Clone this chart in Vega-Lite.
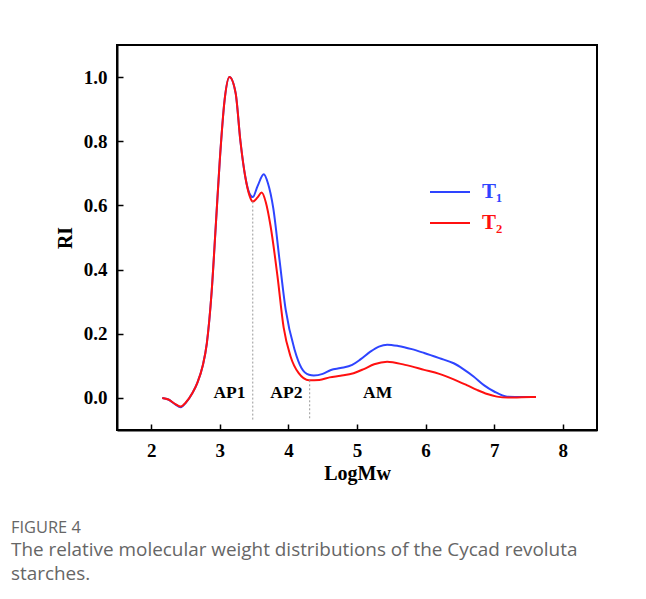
{
  "$schema": "https://vega.github.io/schema/vega-lite/v6.json",
  "width": 480,
  "height": 385,
  "autosize": {"type": "none"},
  "padding": {"left": 117, "top": 45, "right": 49, "bottom": 169},
  "background": "white",
  "config": {
    "view": {"stroke": "black", "strokeWidth": 2},
    "font": "Liberation Serif"
  },
  "title": {
    "text": "FIGURE 4",
    "subtitle": ["The relative molecular weight distributions of the Cycad revoluta", "starches."],
    "orient": "bottom",
    "anchor": "start",
    "frame": "group",
    "dx": -106,
    "offset": 37,
    "font": "Open Sans",
    "fontSize": 16.4,
    "fontWeight": "normal",
    "color": "#666666",
    "subtitleFont": "Open Sans",
    "subtitleFontSize": 18.9,
    "subtitleColor": "#666666",
    "subtitleLineHeight": 24,
    "subtitlePadding": 5
  },
  "layer": [
    {
      "data": {"values": [
        {"x": 2.16, "ri": 0.0, "s": "T1"}, {"x": 2.25, "ri": -0.005, "s": "T1"}, {"x": 2.35, "ri": -0.02, "s": "T1"}, {"x": 2.43, "ri": -0.029, "s": "T1"}, {"x": 2.5, "ri": -0.016, "s": "T1"}, {"x": 2.6, "ri": 0.015, "s": "T1"}, {"x": 2.67, "ri": 0.046, "s": "T1"}, {"x": 2.75, "ri": 0.1, "s": "T1"}, {"x": 2.81, "ri": 0.17, "s": "T1"}, {"x": 2.88, "ri": 0.33, "s": "T1"}, {"x": 2.94, "ri": 0.535, "s": "T1"}, {"x": 3.0, "ri": 0.744, "s": "T1"}, {"x": 3.07, "ri": 0.93, "s": "T1"}, {"x": 3.14, "ri": 1.0, "s": "T1"}, {"x": 3.23, "ri": 0.95, "s": "T1"}, {"x": 3.3, "ri": 0.8, "s": "T1"}, {"x": 3.37, "ri": 0.69, "s": "T1"}, {"x": 3.43, "ri": 0.638, "s": "T1"},
        {"x": 3.48, "ri": 0.626, "s": "T1"}, {"x": 3.55, "ri": 0.66, "s": "T1"}, {"x": 3.64, "ri": 0.697, "s": "T1"}, {"x": 3.7, "ri": 0.67, "s": "T1"}, {"x": 3.78, "ri": 0.59, "s": "T1"}, {"x": 3.87, "ri": 0.43, "s": "T1"}, {"x": 3.96, "ri": 0.275, "s": "T1"}, {"x": 4.09, "ri": 0.15, "s": "T1"}, {"x": 4.19, "ri": 0.093, "s": "T1"}, {"x": 4.3, "ri": 0.072, "s": "T1"}, {"x": 4.37, "ri": 0.07, "s": "T1"}, {"x": 4.5, "ri": 0.075, "s": "T1"}, {"x": 4.62, "ri": 0.087, "s": "T1"}, {"x": 4.76, "ri": 0.093, "s": "T1"}, {"x": 4.93, "ri": 0.103, "s": "T1"}, {"x": 5.05, "ri": 0.12, "s": "T1"}, {"x": 5.2, "ri": 0.145, "s": "T1"}, {"x": 5.32, "ri": 0.16, "s": "T1"}, {"x": 5.44, "ri": 0.166, "s": "T1"}, {"x": 5.6, "ri": 0.162, "s": "T1"}, {"x": 5.8, "ri": 0.152, "s": "T1"}, {"x": 5.98, "ri": 0.14, "s": "T1"}, {"x": 6.2, "ri": 0.124, "s": "T1"}, {"x": 6.41, "ri": 0.108, "s": "T1"}, {"x": 6.55, "ri": 0.09, "s": "T1"}, {"x": 6.7, "ri": 0.067, "s": "T1"}, {"x": 6.85, "ri": 0.04, "s": "T1"}, {"x": 7.0, "ri": 0.02, "s": "T1"}, {"x": 7.19, "ri": 0.004, "s": "T1"}, {"x": 7.4, "ri": 0.003, "s": "T1"}, {"x": 7.61, "ri": 0.003, "s": "T1"},
        {"x": 2.16, "ri": 0.0, "s": "T2"}, {"x": 2.25, "ri": -0.005, "s": "T2"}, {"x": 2.35, "ri": -0.019, "s": "T2"}, {"x": 2.43, "ri": -0.027, "s": "T2"}, {"x": 2.5, "ri": -0.015, "s": "T2"}, {"x": 2.6, "ri": 0.015, "s": "T2"}, {"x": 2.67, "ri": 0.046, "s": "T2"}, {"x": 2.75, "ri": 0.1, "s": "T2"}, {"x": 2.81, "ri": 0.17, "s": "T2"}, {"x": 2.88, "ri": 0.33, "s": "T2"}, {"x": 2.94, "ri": 0.535, "s": "T2"}, {"x": 3.0, "ri": 0.744, "s": "T2"}, {"x": 3.07, "ri": 0.93, "s": "T2"}, {"x": 3.14, "ri": 1.0, "s": "T2"}, {"x": 3.23, "ri": 0.95, "s": "T2"}, {"x": 3.3, "ri": 0.8, "s": "T2"}, {"x": 3.37, "ri": 0.69, "s": "T2"}, {"x": 3.43, "ri": 0.632, "s": "T2"},
        {"x": 3.48, "ri": 0.612, "s": "T2"}, {"x": 3.55, "ri": 0.625, "s": "T2"}, {"x": 3.61, "ri": 0.64, "s": "T2"}, {"x": 3.67, "ri": 0.61, "s": "T2"}, {"x": 3.74, "ri": 0.535, "s": "T2"}, {"x": 3.84, "ri": 0.38, "s": "T2"}, {"x": 3.93, "ri": 0.22, "s": "T2"}, {"x": 4.03, "ri": 0.13, "s": "T2"}, {"x": 4.15, "ri": 0.077, "s": "T2"}, {"x": 4.3, "ri": 0.055, "s": "T2"}, {"x": 4.45, "ri": 0.056, "s": "T2"}, {"x": 4.6, "ri": 0.064, "s": "T2"}, {"x": 4.76, "ri": 0.069, "s": "T2"}, {"x": 4.95, "ri": 0.077, "s": "T2"}, {"x": 5.1, "ri": 0.09, "s": "T2"}, {"x": 5.25, "ri": 0.105, "s": "T2"}, {"x": 5.44, "ri": 0.113, "s": "T2"}, {"x": 5.7, "ri": 0.103, "s": "T2"}, {"x": 5.98, "ri": 0.0875, "s": "T2"}, {"x": 6.2, "ri": 0.075, "s": "T2"}, {"x": 6.41, "ri": 0.058, "s": "T2"}, {"x": 6.6, "ri": 0.04, "s": "T2"}, {"x": 6.75, "ri": 0.025, "s": "T2"}, {"x": 6.9, "ri": 0.012, "s": "T2"}, {"x": 7.04, "ri": 0.004, "s": "T2"}, {"x": 7.2, "ri": 0.001, "s": "T2"}, {"x": 7.4, "ri": 0.002, "s": "T2"}, {"x": 7.61, "ri": 0.003, "s": "T2"}
      ]},
      "mark": {"type": "line", "interpolate": "monotone", "strokeWidth": 2},
      "encoding": {
        "x": {
          "field": "x", "type": "quantitative",
          "scale": {"domain": [1.5, 8.5], "nice": false, "zero": false},
          "axis": {
            "title": "LogMw",
            "titleFont": "Liberation Serif", "titleFontSize": 20, "titleFontWeight": "bold", "titleColor": "black", "titlePadding": 3,
            "values": [2, 2.5, 3, 3.5, 4, 4.5, 5, 5.5, 6, 6.5, 7, 7.5, 8],
            "labelExpr": "datum.value % 1 == 0 ? format(datum.value, 'd') : ''",
            "tickSize": -6,
            "tickColor": "black", "tickWidth": 1.5,
            "domainColor": "black", "domainWidth": 2,
            "labelFont": "Liberation Serif", "labelFontSize": 19, "labelFontWeight": "bold", "labelColor": "black",
            "labelPadding": 17, "grid": false
          }
        },
        "y": {
          "field": "ri", "type": "quantitative",
          "scale": {"domain": [-0.1, 1.1], "nice": false, "zero": false},
          "axis": {
            "title": "RI",
            "titleFont": "Liberation Serif", "titleFontSize": 20, "titleFontWeight": "bold", "titleColor": "black", "titlePadding": 8,
            "values": [0, 0.1, 0.2, 0.3, 0.4, 0.5, 0.6, 0.7, 0.8, 0.9, 1.0],
            "labelExpr": "round(datum.value * 10) % 2 == 0 ? format(datum.value, '.1f') : ''",
            "tickSize": -6,
            "tickColor": "black", "tickWidth": 1.5,
            "domainColor": "black", "domainWidth": 2,
            "labelFont": "Liberation Serif", "labelFontSize": 19, "labelFontWeight": "bold", "labelColor": "black",
            "labelPadding": 16, "grid": false
          }
        },
        "color": {
          "field": "s", "type": "nominal",
          "scale": {"domain": ["T1", "T2"], "range": ["#2e44ff", "#ff1010"]},
          "legend": {
            "title": null,
            "orient": "none",
            "legendX": 312,
            "legendY": 126,
            "symbolType": "stroke",
            "symbolSize": 1600,
            "symbolStrokeWidth": 2,
            "rowPadding": -2,
            "labelOffset": 11,
            "labelFont": "Liberation Serif",
            "labelFontSize": 21,
            "labelFontWeight": "bold",
            "labelExpr": "datum.value == 'T1' ? 'T₁' : 'T₂'",
            "encode": {"labels": {"update": {"fill": {"scale": "color", "field": "value"}}}}
          }
        }
      }
    },
    {
      "data": {"values": [
        {"x": 3.48, "top": 0.612, "bottom": -0.07},
        {"x": 4.31, "top": 0.055, "bottom": -0.07}
      ]},
      "mark": {"type": "rule", "color": "#999999", "strokeWidth": 1, "strokeDash": [2, 2]},
      "encoding": {
        "x": {"field": "x", "type": "quantitative"},
        "y": {"field": "top", "type": "quantitative"},
        "y2": {"field": "bottom"}
      }
    },
    {
      "data": {"values": [
        {"x": 3.14, "ri": 0.015, "label": "AP1"},
        {"x": 3.97, "ri": 0.015, "label": "AP2"},
        {"x": 5.3, "ri": 0.015, "label": "AM"}
      ]},
      "mark": {"type": "text", "font": "Liberation Serif", "fontSize": 17.5, "fontWeight": "bold", "color": "black", "baseline": "middle"},
      "encoding": {
        "x": {"field": "x", "type": "quantitative"},
        "y": {"field": "ri", "type": "quantitative"},
        "text": {"field": "label"}
      }
    }
  ]
}
